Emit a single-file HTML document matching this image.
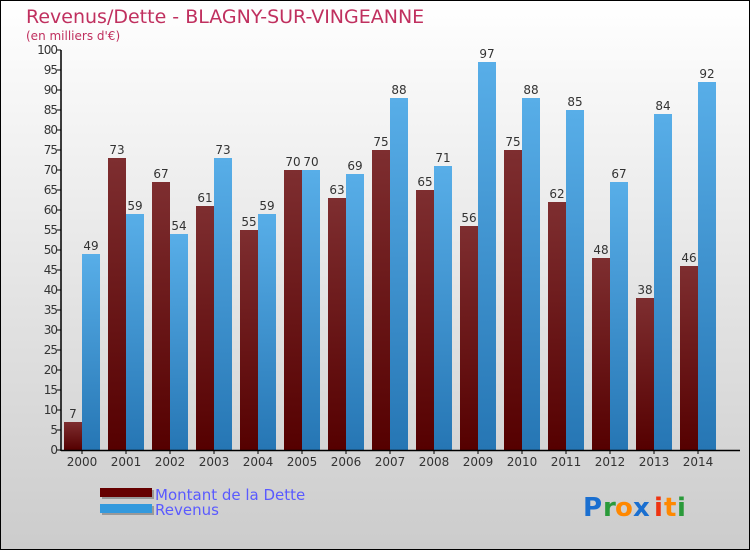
<!DOCTYPE html>
<html><head><meta charset="utf-8"><style>
body{margin:0;}
svg text{font-family:"DejaVu Sans","Liberation Sans",sans-serif;}
</style></head><body>
<svg xmlns="http://www.w3.org/2000/svg" width="750" height="550" viewBox="0 0 750 550">
<defs>
<linearGradient id="bg" x1="0" y1="0" x2="0" y2="1"><stop offset="0" stop-color="#ffffff"/><stop offset="1" stop-color="#cccccc"/></linearGradient>
<linearGradient id="gd" x1="0" y1="0" x2="0" y2="1"><stop offset="0" stop-color="#7e2e30"/><stop offset="1" stop-color="#550000"/></linearGradient>
<linearGradient id="gr" x1="0" y1="0" x2="0" y2="1"><stop offset="0" stop-color="#58aee8"/><stop offset="1" stop-color="#2676b4"/></linearGradient>
</defs>
<rect x="0.5" y="0.5" width="749" height="549" fill="url(#bg)" stroke="#000"/>
<text x="26" y="23" font-size="19" fill="#c0305f">Revenus/Dette - BLAGNY-SUR-VINGEANNE</text>
<text x="26" y="40" font-size="12" fill="#c0305f">(en milliers d'€)</text>
<g id="plot"></g>
<g>
<rect x="102" y="490" width="52" height="9" fill="#999"/>
<rect x="100" y="488" width="52" height="9" fill="#660000"/>
<text x="155" y="500" font-size="15" fill="#5a5aff">Montant de la Dette</text>
<rect x="102" y="506" width="52" height="9" fill="#999"/>
<rect x="100" y="504" width="52" height="9" fill="#3399dd"/>
<text x="155" y="515" font-size="15" fill="#5a5aff">Revenus</text>
</g>
<g font-size="26" font-family="DejaVu Sans" font-weight="bold">
<text x="583" y="516" fill="#1a6fd0">P</text><text x="603" y="516" fill="#2a9a3a">r</text><text x="615" y="516" fill="#ff8800">o</text><text x="633" y="516" fill="#1a6fd0">x</text><text x="654" y="516" fill="#ee3311">i</text><text x="664" y="516" fill="#ff8800">t</text><text x="677" y="516" fill="#2a9a3a">i</text>
</g>
</svg>
<script>
const years=["2000","2001","2002","2003","2004","2005","2006","2007","2008","2009","2010","2011","2012","2013","2014"];
const dette=[7,73,67,61,55,70,63,75,65,56,75,62,48,38,46];
const revenus=[49,59,54,73,59,70,69,88,71,97,88,85,67,84,92];
const yTicks=[0,5,10,15,20,25,30,35,40,45,50,55,60,65,70,75,80,85,90,95,100];
const NS="http://www.w3.org/2000/svg";
const g=document.getElementById('plot');
const y=v=>450-v*4;
const x0=i=>64+i*44;
function mk(t,a,p){const e=document.createElementNS(NS,t);for(const k in a)e.setAttribute(k,a[k]);(p||g).appendChild(e);return e;}
years.forEach((yr,i)=>{
 const d=mk('rect',{x:x0(i),y:y(dette[i]),width:18,height:dette[i]*4,fill:'url(#gd)'});
 
 
 const r=mk('rect',{x:x0(i)+18,y:y(revenus[i]),width:18,height:revenus[i]*4,fill:'url(#gr)'});
 
 
 const t1=mk('text',{x:x0(i)+9,y:y(dette[i])-4,'font-size':12,fill:'#333','text-anchor':'middle'});t1.textContent=dette[i];
 
 
 const t2=mk('text',{x:x0(i)+27,y:y(revenus[i])-4,'font-size':12,fill:'#333','text-anchor':'middle'});t2.textContent=revenus[i];
 
 
 mk('line',{x1:x0(i)+18,x2:x0(i)+18,y1:450,y2:454,stroke:'#000'});
 const xl=mk('text',{x:x0(i)+18,y:466,'font-size':12,fill:'#333','text-anchor':'middle'});xl.textContent=yr;
 
 
});
yTicks.forEach(v=>{
 mk('line',{x1:57,x2:61,y1:y(v),y2:y(v),stroke:'#000'});
 const t=mk('text',{x:57,y:y(v)+4,'font-size':12,fill:'#333','text-anchor':'end','letter-spacing':'-1'});t.textContent=v;
 
 
});
const ya=mk('line',{x1:61,x2:61,y1:50,y2:451,stroke:'#000','stroke-width':1.5});


const xa=mk('line',{x1:61,x2:740,y1:450.5,y2:450.5,stroke:'#000','stroke-width':1.5});


</script>
</body></html>
